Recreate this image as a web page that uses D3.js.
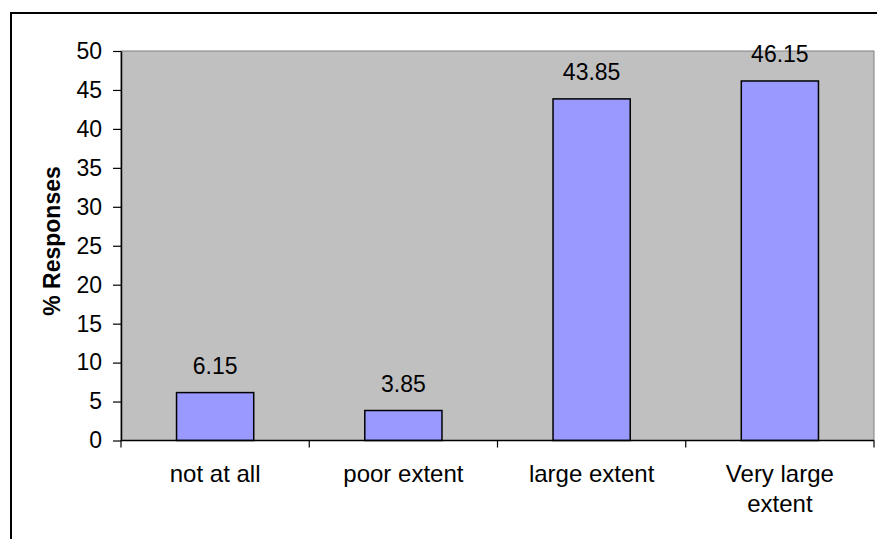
<!DOCTYPE html>
<html>
<head>
<meta charset="utf-8">
<script src="https://cdn.jsdelivr.net/npm/d3@7"></script>
<style>
    body { margin: 0; background: #ffffff; }
    svg { display: block; }
    text { font-family: "Liberation Sans", Arial, sans-serif; fill: #000; }
</style>
</head>
<body>
<svg id="chart" width="877" height="539"></svg>
<script>
// Chart data
const categories = ["not at all", "poor extent", "large extent", "Very large extent"];
const categoryLines = [["not at all"], ["poor extent"], ["large extent"], ["Very large", "extent"]];
const values = [6.15, 3.85, 43.85, 46.15];
const yTicks = [0, 5, 10, 15, 20, 25, 30, 35, 40, 45, 50];

const svg = d3.select("#chart");

// Plot area
const plot = { left: 121, top: 51, right: 874, bottom: 440.5 };

// Outer chart border (runs past the window on right and bottom)
svg.append("rect")
    .attr("x", 11)
    .attr("y", 13)
    .attr("width", 900)
    .attr("height", 600)
    .attr("fill", "#ffffff")
    .attr("stroke", "#000")
    .attr("stroke-width", 2);

const x = d3.scaleBand()
    .domain(categories)
    .range([plot.left, plot.right])
    .paddingInner(0.59)
    .paddingOuter(0.295);

const xCat = d3.scaleBand()
    .domain(categories)
    .range([plot.left, plot.right])
    .padding(0);

const y = d3.scaleLinear()
    .domain([0, 50])
    .range([plot.bottom, plot.top]);

// Gray plot background
svg.append("rect")
    .attr("x", plot.left)
    .attr("y", plot.top)
    .attr("width", plot.right - plot.left)
    .attr("height", plot.bottom - plot.top)
    .attr("fill", "#c0c0c0")
    .attr("stroke", "#808080")
    .attr("stroke-width", 1);

// Bars
svg.selectAll(".bar")
    .data(values)
    .enter()
    .append("rect")
    .attr("class", "bar")
    .attr("x", (d, i) => x(categories[i]))
    .attr("y", d => y(d))
    .attr("width", x.bandwidth())
    .attr("height", d => y(0) - y(d))
    .attr("fill", "#9999ff")
    .attr("stroke", "#000")
    .attr("stroke-width", 1.5);

// Value labels
svg.selectAll(".val")
    .data(values)
    .enter()
    .append("text")
    .attr("class", "val")
    .attr("x", (d, i) => x(categories[i]) + x.bandwidth() / 2)
    .attr("y", d => y(d) - 19)
    .attr("text-anchor", "middle")
    .attr("font-size", "23px")
    .text(d => d);

// Y axis
const yAxis = svg.append("g")
    .attr("transform", `translate(${plot.left},0)`)
    .call(d3.axisLeft(y).tickValues(yTicks).tickSize(8).tickPadding(11).tickSizeOuter(0));
yAxis.select(".domain").attr("stroke", "#000").attr("stroke-width", 1.5);
yAxis.selectAll(".tick line").attr("stroke", "#000").attr("stroke-width", 1.2);
yAxis.selectAll(".tick text")
    .attr("font-size", "23px")
    .attr("font-family", "Liberation Sans, Arial, sans-serif")
    .attr("fill", "#000");

// X axis line and boundary ticks
svg.append("line")
    .attr("x1", plot.left)
    .attr("x2", plot.right)
    .attr("y1", plot.bottom)
    .attr("y2", plot.bottom)
    .attr("stroke", "#000")
    .attr("stroke-width", 1.5);

const boundaries = categories.map(c => xCat(c)).concat([plot.right]);
svg.selectAll(".xtick")
    .data(boundaries)
    .enter()
    .append("line")
    .attr("class", "xtick")
    .attr("x1", d => d)
    .attr("x2", d => d)
    .attr("y1", plot.bottom)
    .attr("y2", plot.bottom + 7)
    .attr("stroke", "#000")
    .attr("stroke-width", 1.2);

// Category labels (wrapped)
const catLabels = svg.selectAll(".cat")
    .data(categoryLines)
    .enter()
    .append("text")
    .attr("class", "cat")
    .attr("text-anchor", "middle")
    .attr("font-size", "24px");

catLabels.selectAll("tspan")
    .data((d, i) => d.map(line => ({ line, i })))
    .enter()
    .append("tspan")
    .attr("x", d => xCat(categories[d.i]) + xCat.bandwidth() / 2)
    .attr("y", (d, j) => 482 + j * 30)
    .text(d => d.line);

// Y axis title
svg.append("text")
    .attr("transform", "translate(60,241) rotate(-90)")
    .attr("text-anchor", "middle")
    .attr("font-size", "23px")
    .attr("font-weight", "bold")
    .text("% Responses");
</script>
</body>
</html>
